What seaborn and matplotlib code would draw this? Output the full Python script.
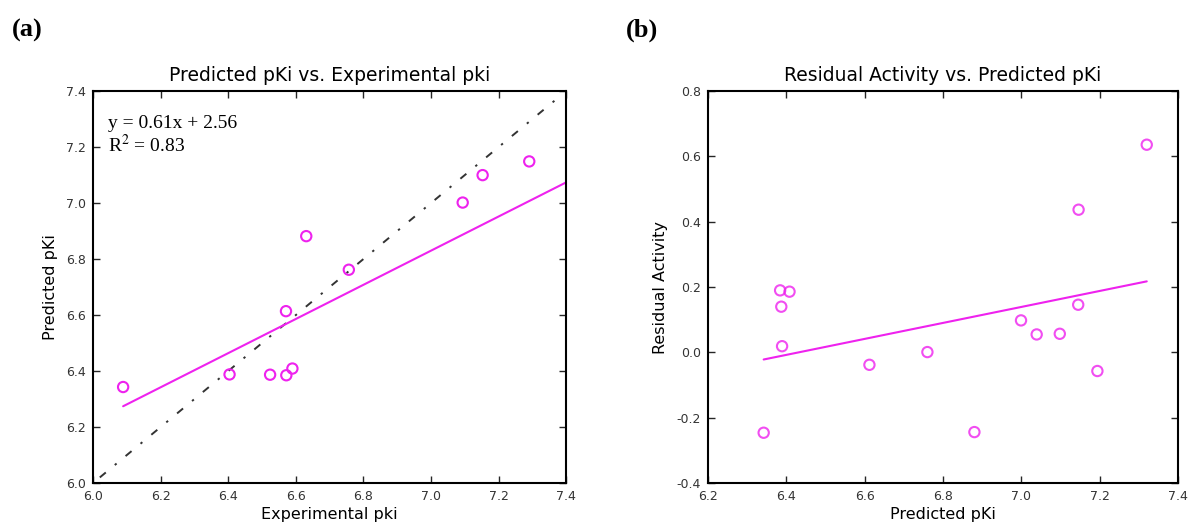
import matplotlib
matplotlib.use("Agg")
import matplotlib.pyplot as plt
import numpy as np
import pandas as pd
import seaborn as sns

# data
exp_pki = [6.089, 6.404, 6.524, 6.572, 6.590, 6.571, 6.631, 6.757, 7.094, 7.153, 7.291]
pred_pki_a = [6.343, 6.388, 6.387, 6.385, 6.409, 6.614, 6.882, 6.762, 7.002, 7.100, 7.149]

pred_pki_b = [6.342, 6.384, 6.408, 6.387, 6.389, 6.612, 6.760, 6.880, 6.999, 7.039,
              7.098, 7.146, 7.145, 7.194, 7.320]
residual = [-0.246, 0.190, 0.186, 0.140, 0.019, -0.038, 0.001, -0.244, 0.098, 0.055,
            0.057, 0.437, 0.146, -0.057, 0.636]

fit_slope = 0.61
fit_intercept = 2.56
fit_r2 = 0.83
diag_range = [6.02, 7.37]

df_a = pd.DataFrame({'exp': exp_pki, 'pred': pred_pki_a})
df_b = pd.DataFrame({'pred': pred_pki_b, 'res': residual})

sns.set_style('ticks')
plt.rcParams['font.family'] = ['DejaVu Sans']
plt.rcParams['mathtext.fontset'] = 'stix'
plt.rcParams['text.color'] = 'black'
plt.rcParams['axes.labelcolor'] = 'black'

MAG = '#ee22ee'

fig = plt.figure(figsize=(11.93, 5.26), dpi=100)
ax1 = fig.add_axes([0.078, 0.0817, 0.3965, 0.745])
ax2 = fig.add_axes([0.5935, 0.0817, 0.394, 0.745])

# Panel (a)
sns.scatterplot(data=df_a, x='exp', y='pred', ax=ax1, marker='o', s=55,
                facecolor='none', edgecolor=MAG, linewidth=1.5, zorder=3)
ax1.plot(diag_range, diag_range, linestyle='-.', color='#333333', linewidth=1.4,
         dashes=(4, 6, 1.2, 6))
xs = np.array([min(exp_pki), 7.4])
ax1.plot(xs, fit_slope * xs + fit_intercept, color=MAG, linewidth=1.5)
ax1.text(0.032, 0.918, 'y = %.2fx + %.2f' % (fit_slope, fit_intercept), transform=ax1.transAxes,
         family='Liberation Serif', fontsize=14, va='center')
ax1.text(0.032, 0.862, 'R$^{2}$ = %.2f' % fit_r2, transform=ax1.transAxes,
         family='Liberation Serif', fontsize=14, va='center')
ax1.set_xlim(6.0, 7.4)
ax1.set_ylim(6.0, 7.4)
ax1.set_xticks(np.arange(6.0, 7.41, 0.2))
ax1.set_yticks(np.arange(6.0, 7.41, 0.2))
ax1.set_title('Predicted pKi vs. Experimental pki', fontsize=13.5, pad=7)
ax1.set_xlabel('Experimental pki', fontsize=11.5, labelpad=3)
ax1.set_ylabel('Predicted pKi', fontsize=11.5, labelpad=6)

# Panel (b)
sns.regplot(data=df_b, x='pred', y='res', ax=ax2, ci=None, truncate=True,
            scatter_kws={'s': 55, 'facecolors': 'none', 'edgecolors': MAG, 'linewidths': 1.5},
            line_kws={'color': MAG, 'linewidth': 1.5}, color=MAG)
ax2.set_xlim(6.2, 7.4)
ax2.set_ylim(-0.4, 0.8)
ax2.set_xticks(np.arange(6.2, 7.41, 0.2))
ax2.set_yticks(np.arange(-0.4, 0.81, 0.2))
ax2.set_title('Residual Activity vs. Predicted pKi', fontsize=13.5, pad=7)
ax2.set_xlabel('Predicted pKi', fontsize=11.5, labelpad=3)
ax2.set_ylabel('Residual Activity', fontsize=11.5, labelpad=6)

for ax in (ax1, ax2):
    ax.xaxis.set_major_formatter(matplotlib.ticker.FormatStrFormatter('%.1f'))
    ax.yaxis.set_major_formatter(matplotlib.ticker.FormatStrFormatter('%.1f'))
    ax.tick_params(direction='in', top=True, right=True, length=5, width=1,
                   labelsize=9, labelcolor='#333333', pad=5)
    for sp in ax.spines.values():
        sp.set_visible(True)
        sp.set_linewidth(1.5)
        sp.set_color('black')

fig.text(0.010, 0.943, '(a)', family='Liberation Serif', fontweight='bold', fontsize=19,
         va='center', color='black')
fig.text(0.525, 0.943, '(b)', family='Liberation Serif', fontweight='bold', fontsize=19,
         va='center', color='black')

fig.savefig('out.png', dpi=100)
